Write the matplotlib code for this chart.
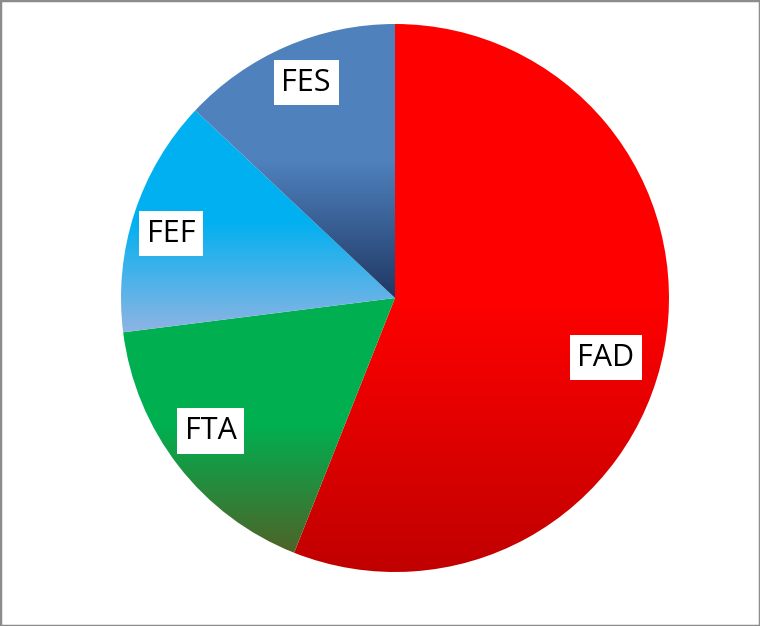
import numpy as np
import matplotlib
matplotlib.use("Agg")
import matplotlib.pyplot as plt
from matplotlib.colors import to_rgb
from matplotlib.patches import Rectangle

categories = ["FAD", "FTA", "FEF", "FES"]
values = [56, 17, 14, 13]
top_colors = ["#FF0000", "#00B050", "#00B0F0", "#4F81BD"]
bottom_colors = ["#C00000", "#4F6228", "#8EB4E3", "#1F3864"]
label_angle_offsets = [-5, -2, 2, -1]
label_radii = [0.80, 0.83, 0.85, 0.85]

W, H = 760, 626
fig = plt.figure(figsize=(W / 100, H / 100), dpi=100)
cx, cy, R = 395, 298, 274
ax = fig.add_axes([(cx - R) / W, (H - cy - R) / H, 2 * R / W, 2 * R / H])

wedges, _ = ax.pie(values, startangle=90, counterclock=False, radius=1,
                   colors=top_colors, wedgeprops=dict(linewidth=0))
ax.set_xlim(-1, 1)
ax.set_ylim(-1, 1)
ax.set_aspect("equal")
ax.axis("off")

n = 256
for w, c0, c1 in zip(wedges, top_colors, bottom_colors):
    w.set_facecolor("none")
    verts = w.get_path().vertices
    tr = w.get_patch_transform()
    pts = tr.transform(verts)
    x0, x1 = pts[:, 0].min(), pts[:, 0].max()
    y0, y1 = pts[:, 1].min(), pts[:, 1].max()
    t = np.linspace(0, 1, n)  # 0 = top, 1 = bottom
    f = np.clip((t - 0.5) / 0.5, 0, 1)
    a, b = np.array(to_rgb(c0)), np.array(to_rgb(c1))
    col = a[None, :] * (1 - f[:, None]) + b[None, :] * f[:, None]
    img = np.repeat(col[:, None, :], 2, axis=1)
    im = ax.imshow(img, extent=(x0, x1, y0, y1), origin="upper",
                   aspect="auto", interpolation="bilinear", zorder=1)
    im.set_clip_path(w)

ax.set_xlim(-1, 1)
ax.set_ylim(-1, 1)

for w, lab, off, r in zip(wedges, categories, label_angle_offsets, label_radii):
    mid = np.deg2rad((w.theta1 + w.theta2) / 2 + off)
    ax.text(r * np.cos(mid), r * np.sin(mid), lab, ha="center", va="center",
            fontsize=22, family="Open Sans", color="black", zorder=5,
            bbox=dict(boxstyle="square,pad=0.25", fc="white", ec="none"))

fig.add_artist(Rectangle((0, 0), 1, 1, transform=fig.transFigure, fill=False,
                         ec="#8C8C8C", lw=2.5))
fig.savefig("out.png", dpi=100)
